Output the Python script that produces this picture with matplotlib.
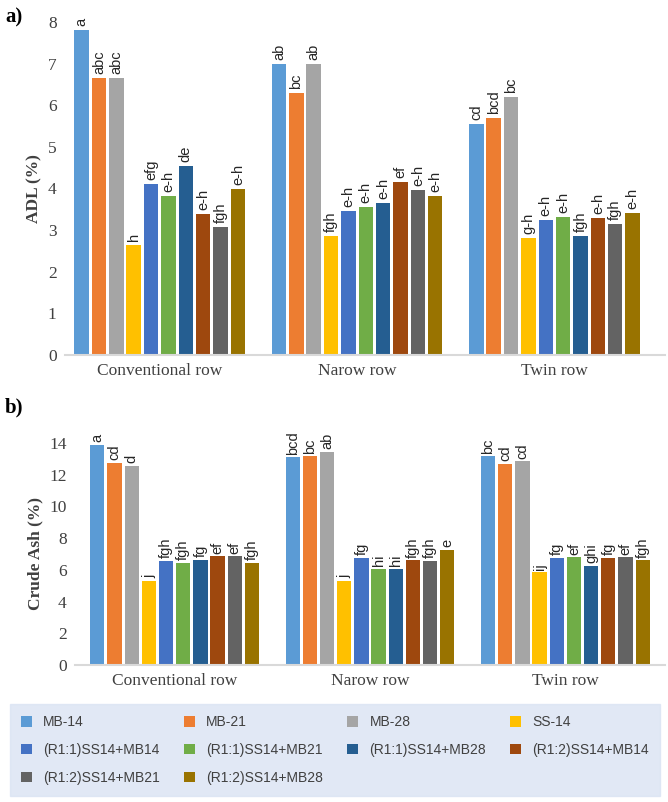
import matplotlib
matplotlib.use("Agg")
import matplotlib.pyplot as plt
import numpy as np

groups = ["Conventional row", "Narow row", "Twin row"]
series = ["MB-14", "MB-21", "MB-28", "SS-14", "(R1:1)SS14+MB14", "(R1:1)SS14+MB21",
          "(R1:1)SS14+MB28", "(R1:2)SS14+MB14", "(R1:2)SS14+MB21", "(R1:2)SS14+MB28"]
colors = ['#5b9bd5', '#ed7d31', '#a5a5a5', '#ffc000', '#4472c4', '#70ad47',
          '#255e91', '#9e480e', '#636363', '#997300']

adl = [[7.8, 7.0, 5.55], [6.65, 6.3, 5.7], [6.65, 7.0, 6.2], [2.65, 2.85, 2.8],
       [4.1, 3.45, 3.25], [3.82, 3.55, 3.32], [4.55, 3.65, 2.85], [3.38, 4.15, 3.28],
       [3.08, 3.97, 3.15], [4.0, 3.82, 3.42]]
adl_let = [["a", "ab", "cd"], ["abc", "bc", "bcd"], ["abc", "ab", "bc"], ["h", "fgh", "g-h"],
           ["efg", "e-h", "e-h"], ["e-h", "e-h", "e-h"], ["de", "e-h", "fgh"], ["e-h", "ef", "e-h"],
           ["fgh", "e-h", "fgh"], ["e-h", "e-h", "e-h"]]
ash = [[13.9, 13.1, 13.15], [12.75, 13.15, 12.7], [12.55, 13.45, 12.85], [5.3, 5.3, 5.85],
       [6.55, 6.75, 6.75], [6.45, 6.05, 6.8], [6.65, 6.05, 6.25], [6.85, 6.6, 6.75],
       [6.85, 6.55, 6.8], [6.45, 7.25, 6.6]]
ash_let = [["a", "bcd", "bc"], ["cd", "bc", "cd"], ["d", "ab", "cd"], ["j", "j", "ij"],
           ["fgh", "fg", "fg"], ["fgh", "hi", "ef"], ["fg", "hi", "ghi"], ["ef", "fgh", "fg"],
           ["ef", "fgh", "ef"], ["fgh", "e", "fgh"]]

W, H = 668, 802
fig = plt.figure(figsize=(W/100, H/100), dpi=100)
serif = "Liberation Serif"
sans = "Liberation Sans"

def panel(rect, data, lets, ymax, ystep, ylabel, xlim):
    ax = fig.add_axes(rect)
    x = np.arange(len(groups))
    pitch = 0.088
    handles = []
    for i, (vals, ls) in enumerate(zip(data, lets)):
        pos = x + (i - 4.5) * pitch
        b = ax.bar(pos, vals, width=0.073, color=colors[i], label=series[i])
        handles.append(b)
        for p, v, l in zip(pos, vals, ls):
            ax.text(p, v + ymax*0.012, l, rotation=90, ha="center", va="bottom",
                    fontsize=10.5, family=sans, color="#262626")
    ax.set_ylim(0, ymax)
    ax.set_yticks(np.arange(0, ymax + 0.01, ystep))
    ax.set_xlim(*xlim)
    ax.set_xticks(x)
    ax.set_xticklabels(groups, fontsize=12.5, family=serif, color="#404040")
    for lab in ax.get_yticklabels():
        lab.set_family(serif); lab.set_fontsize(12.5); lab.set_color("#404040")
    ax.tick_params(length=0, pad=6)
    ax.set_ylabel(ylabel, fontsize=12.5, family=serif, fontweight="bold", color="#404040")
    for s in ["top", "right", "left"]:
        ax.spines[s].set_visible(False)
    ax.spines["bottom"].set_color("#d9d9d9")
    ax.spines["bottom"].set_linewidth(1.5)
    return ax, handles

ax1, h = panel([65/W, 1-355/H, 600/W, 333/H], adl, adl_let, 8, 1, "ADL (%)", (-0.48, 2.56))
ax2, _ = panel([75/W, 1-665/H, 590/W, 222/H], ash, ash_let, 14, 2, "Crude Ash (%)", (-0.51, 2.51))

fig.text(5/W, 1-17/H, "a)", fontsize=15, family=serif, fontweight="bold", va="center")
fig.text(5/W, 1-407/H, "b)", fontsize=15, family=serif, fontweight="bold", va="center")

order = [0, 4, 8, 1, 5, 9, 2, 6, 3, 7]
leg = fig.legend([h[i] for i in order], [series[i] for i in order], ncol=4,
                 loc="upper left", bbox_to_anchor=(10/W, 1-796/H, 650/W, 92/H),
                 mode="expand", prop={"family": sans, "size": 10},
                 frameon=True, fancybox=False, handlelength=0.8, handleheight=0.8,
                 borderaxespad=0, labelspacing=1.0, columnspacing=0.5, borderpad=0.8)
leg.get_frame().set_facecolor("#dae3f3")
leg.get_frame().set_edgecolor("#dae3f3")
for t in leg.get_texts():
    t.set_color("#404040")

fig.savefig("out.png", dpi=100)
